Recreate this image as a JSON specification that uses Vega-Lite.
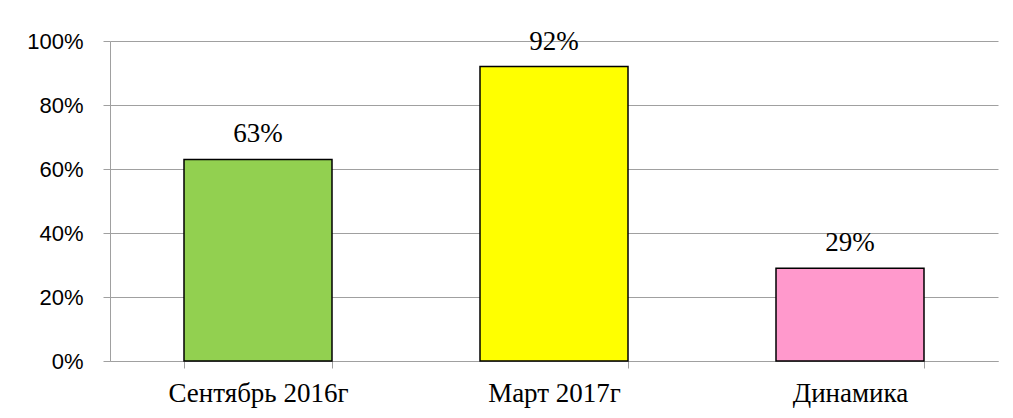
{
  "$schema": "https://vega.github.io/schema/vega-lite/v6.json",
  "width": 888,
  "height": 320,
  "autosize": {"type": "none"},
  "padding": {"left": 110, "top": 41, "right": 15, "bottom": 57},
  "background": "white",
  "data": {"values": [
    {"cat": "Сентябрь 2016г", "v": 0.63, "label": "63%", "color": "#92d050"},
    {"cat": "Март 2017г", "v": 0.92, "label": "92%", "color": "#ffff00"},
    {"cat": "Динамика", "v": 0.29, "label": "29%", "color": "#ff99cc"}
  ]},
  "encoding": {
    "x": {
      "field": "cat", "type": "nominal", "sort": null,
      "scale": {"paddingInner": 0.5, "paddingOuter": 0.25},
      "axis": {
        "title": null, "labelAngle": 0, "tickBand": "extent", "labelLimit": 400,
        "labelFont": "Liberation Serif", "labelFontSize": 27, "labelColor": "black",
        "labelPadding": 12, "tickSize": 7, "tickColor": "#a0a0a0", "domainColor": "#a0a0a0",
        "grid": false
      }
    },
    "y": {
      "field": "v", "type": "quantitative",
      "scale": {"domain": [0, 1]},
      "axis": {
        "title": null, "values": [0, 0.2, 0.4, 0.6, 0.8, 1], "format": ".0%",
        "labelFont": "Liberation Sans", "labelFontSize": 22, "labelColor": "black",
        "labelPadding": 20, "tickSize": 7, "tickColor": "#a0a0a0", "domainColor": "#a0a0a0",
        "gridColor": "#a0a0a0", "gridWidth": 1
      }
    }
  },
  "layer": [
    {
      "mark": {"type": "bar", "stroke": "black", "strokeWidth": 1.5},
      "encoding": {"color": {"field": "color", "type": "nominal", "scale": null}}
    },
    {
      "mark": {"type": "text", "font": "Liberation Serif", "fontSize": 27, "baseline": "alphabetic", "dy": -17, "color": "black"},
      "encoding": {"text": {"field": "label"}}
    }
  ],
  "config": {"view": {"stroke": null}}
}
